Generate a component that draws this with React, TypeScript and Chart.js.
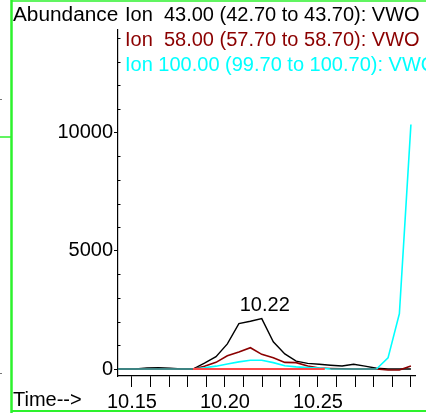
import React, { useEffect, useRef } from "react";
import { Chart, registerables } from "chart.js";

Chart.register(...registerables);

const times = [10.1396, 10.1458, 10.152, 10.1581, 10.1643, 10.1705, 10.1766, 10.1828, 10.189, 10.1952, 10.2013, 10.2075, 10.2137, 10.2198, 10.226, 10.2322, 10.2383, 10.2445, 10.2507, 10.2568, 10.263, 10.2692, 10.2753, 10.2815, 10.2877, 10.2938, 10.3];
const ion43 = [0, 0, 0, 40, 50, 30, 0, 0, 250, 520, 1060, 1920, 2020, 2130, 1150, 640, 330, 240, 200, 160, 130, 200, 120, 30, 0, 0, 0];
const ion58 = [0, 0, 0, 0, 0, 0, 0, 0, 120, 280, 560, 720, 900, 620, 480, 280, 270, 130, 40, 20, 10, 0, 0, 0, -40, -40, 130];
const ion100 = [0, 0, 0, 0, 0, 0, 0, 0, 50, 120, 210, 300, 370, 370, 270, 140, 90, 60, 40, 0, 0, 0, 0, 0, 470, 2340, 10340];
const baselineTimes = [10.1828, 10.2537];
const baselineValues = [0, 0];

const xTicks = [10.15, 10.16, 10.17, 10.18, 10.19, 10.2, 10.21, 10.22, 10.23, 10.24, 10.25, 10.26, 10.27, 10.28, 10.29, 10.3];
const xLabels = ["10.15", "10.20", "10.25"];
const yTicks = [0, 5000, 10000];
const yMinorTicks = [1000, 2000, 3000, 4000, 6000, 7000, 8000, 9000, 11000, 12000, 13000, 14000];

const titleLines = [
  "Ion  43.00 (42.70 to 43.70): VWO",
  "Ion  58.00 (57.70 to 58.70): VWO",
  "Ion 100.00 (99.70 to 100.70): VWO",
];
const seriesColors = ["#000000", "#8b0000", "#00ffff"];
const peakTime = 10.2198;
const peakValue = 2130;
const peakLabel = "10.22";

const FONT = '"Liberation Sans", Arial, sans-serif';

const pts = (xs: number[], ys: number[]) => xs.map((x, i) => ({ x, y: ys[i] }));

const decor = {
  id: "decor",
  afterDraw(chart: any) {
    const ctx = chart.ctx as CanvasRenderingContext2D;
    const xs = chart.scales.x;
    const ys = chart.scales.y;
    ctx.save();
    ctx.strokeStyle = "#000";
    ctx.lineWidth = 1;
    const ax = chart.chartArea.left;
    yMinorTicks.forEach((v) => {
      const py = Math.round(ys.getPixelForValue(v)) + 0.5;
      ctx.beginPath();
      ctx.moveTo(ax, py);
      ctx.lineTo(ax + 2.5, py);
      ctx.stroke();
    });
    ctx.font = `20px ${FONT}`;
    ctx.textBaseline = "middle";
    ctx.textAlign = "left";
    ctx.fillStyle = "#000";
    ctx.save();
    ctx.translate(13, 15);
    ctx.scale(1.04, 1);
    ctx.fillText("Abundance", 0, 0);
    ctx.restore();
    titleLines.forEach((t, i) => {
      ctx.fillStyle = seriesColors[i];
      ctx.fillText(t, 125, 15 + i * 25);
    });
    ctx.fillStyle = "#000";
    ctx.fillText("Time-->", 13, 400);
    ctx.textAlign = "center";
    ctx.fillText(peakLabel, xs.getPixelForValue(peakTime) + 3, ys.getPixelForValue(peakValue) - 13);
    ctx.strokeStyle = "#2df22d";
    ctx.lineWidth = 2.5;
    ctx.beginPath();
    ctx.moveTo(11.5, 0);
    ctx.lineTo(11.5, 413);
    ctx.stroke();
    ctx.lineWidth = 1.5;
    ctx.beginPath();
    ctx.moveTo(11, 1);
    ctx.lineTo(426, 1);
    ctx.stroke();
    ctx.lineWidth = 2;
    ctx.beginPath();
    ctx.moveTo(11, 411);
    ctx.lineTo(426, 411);
    ctx.stroke();
    ctx.lineWidth = 1.5;
    ctx.beginPath();
    ctx.moveTo(0, 137);
    ctx.lineTo(11, 137);
    ctx.stroke();
    ctx.fillStyle = "#777";
    ctx.fillRect(0, 99, 2, 1);
    ctx.fillRect(0, 373, 2, 1);
    ctx.restore();
  },
};

export default function App() {
  const ref = useRef<HTMLCanvasElement | null>(null);
  useEffect(() => {
    if (!ref.current) return;
    const chart = new Chart(ref.current, {
      type: "line",
      data: {
        datasets: [
          {
            label: "baseline",
            data: pts(baselineTimes, baselineValues),
            borderColor: "#ff4a4a",
            borderWidth: 2,
            pointRadius: 0,
            order: 0,
          },
          {
            label: "Ion 100",
            data: pts(times, ion100),
            borderColor: seriesColors[2],
            borderWidth: 1.6,
            pointRadius: 0,
            order: 1,
            segment: {
              borderColor: (c: any) =>
                c.p0.parsed.y === 0 && c.p1.parsed.y === 0 ? "#2aaaa8" : undefined,
            },
          },
          {
            label: "Ion 58",
            data: pts(times, ion58),
            borderColor: seriesColors[1],
            borderWidth: 1.6,
            pointRadius: 0,
            order: 2,
          },
          {
            label: "Ion 43",
            data: pts(times, ion43),
            borderColor: seriesColors[0],
            borderWidth: 1.4,
            pointRadius: 0,
            order: 3,
          },
        ],
      },
      options: {
        animation: false,
        responsive: false,
        devicePixelRatio: 1,
        layout: { padding: { top: 30, right: 11, left: 0, bottom: 0 } },
        plugins: { legend: { display: false }, tooltip: { enabled: false } },
        elements: { line: { tension: 0 } },
        scales: {
          x: {
            type: "linear",
            min: 10.1425,
            max: 10.3022,
            afterBuildTicks: (s: any) => {
              s.ticks = xTicks.map((v) => ({ value: v }));
            },
            afterFit: (s: any) => {
              s.height = 37;
            },
            ticks: {
              autoSkip: false,
              maxRotation: 0,
              padding: 3,
              color: "#000",
              font: { family: FONT, size: 20 },
              callback: (v: any) => {
                const l = Number(v).toFixed(2);
                return xLabels.includes(l) ? l : "";
              },
            },
            grid: { drawOnChartArea: false, drawTicks: true, tickLength: 11, color: "#000", tickWidth: 1 },
            border: { display: true, color: "#000", width: 1.2 },
          },
          y: {
            type: "linear",
            min: -296,
            max: 14340,
            afterBuildTicks: (s: any) => {
              s.ticks = yTicks.map((v) => ({ value: v }));
            },
            afterFit: (s: any) => {
              s.width = 118;
            },
            ticks: {
              padding: 1,
              color: "#000",
              font: { family: FONT, size: 20 },
              callback: (v: any) => String(v),
            },
            grid: { drawOnChartArea: false, drawTicks: true, tickLength: 4, color: "#000", tickWidth: 1 },
            border: { display: true, color: "#000", width: 1.2 },
          },
        },
      },
      plugins: [decor],
    });
    return () => chart.destroy();
  }, []);
  return (
    <div style={{ position: "absolute", left: 0, top: 0, width: 426, height: 413, background: "#fff" }}>
      <canvas ref={ref} width={426} height={413} style={{ display: "block" }} />
    </div>
  );
}
